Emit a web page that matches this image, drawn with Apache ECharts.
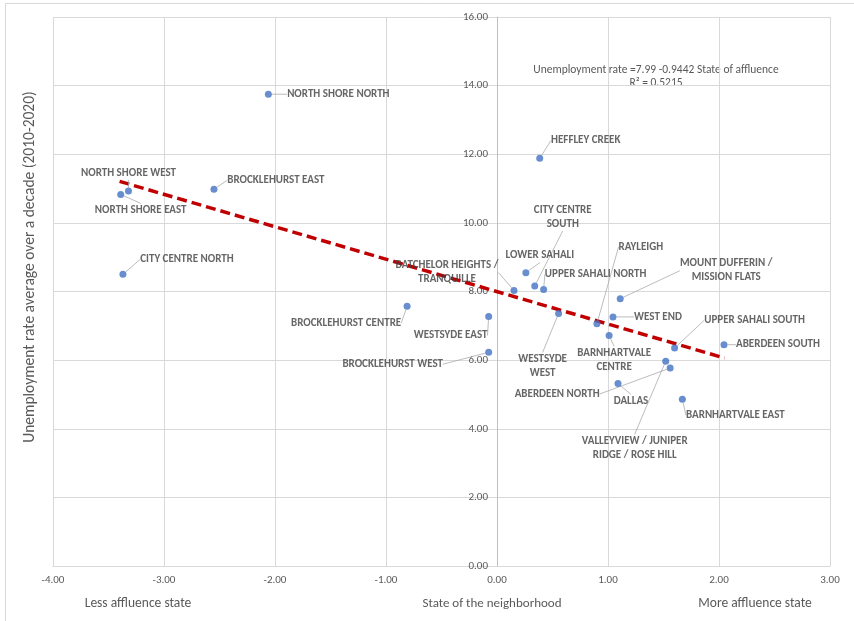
<!DOCTYPE html>
<html>
<head>
<meta charset="utf-8">
<script src="https://cdn.jsdelivr.net/npm/echarts@6/dist/echarts.min.js"></script>
<style>
  html, body { margin: 0; padding: 0; background: #fff; }
  #chart { width: 854px; height: 621px; }
</style>
</head>
<body>
<div id="chart"></div>
<script>
// neighbourhoods, affluence score (x) and unemployment rate (y)
const names = [
  'NORTH SHORE NORTH', 'HEFFLEY CREEK', 'BROCKLEHURST EAST', 'NORTH SHORE WEST',
  'NORTH SHORE EAST', 'CITY CENTRE NORTH', 'BROCKLEHURST CENTRE', 'WESTSYDE EAST',
  'BROCKLEHURST WEST', 'BATCHELOR HEIGHTS /\nTRANQUILLE', 'LOWER SAHALI', 'CITY CENTRE\nSOUTH',
  'UPPER SAHALI NORTH', 'WESTSYDE\nWEST', 'RAYLEIGH', 'BARNHARTVALE\nCENTRE',
  'WEST END', 'MOUNT DUFFERIN /\nMISSION FLATS', 'UPPER SAHALI SOUTH', 'ABERDEEN SOUTH',
  'VALLEYVIEW / JUNIPER\nRIDGE / ROSE HILL', 'ABERDEEN NORTH', 'DALLAS', 'BARNHARTVALE EAST'
];
const affluence = [
  -2.06, 0.385, -2.55, -3.32,
  -3.39, -3.37, -0.81, -0.075,
  -0.075, 0.153, 0.26, 0.34,
  0.42, 0.555, 0.90, 1.01,
  1.045, 1.11, 1.60, 2.045,
  1.52, 1.56, 1.09, 1.67
];
const unemployment = [
  13.75, 11.88, 10.98, 10.93,
  10.83, 8.50, 7.57, 7.27,
  6.23, 8.03, 8.55, 8.16,
  8.06, 7.36, 7.06, 6.72,
  7.26, 7.79, 6.35, 6.45,
  5.97, 5.77, 5.32, 4.86
];
// linear trendline end points
const trendX = [-3.40, 2.05];
const trendY = [11.21, 6.06];

// where each label sits relative to its point (pixels)
const labelOffset = [
  [70, 0], [46, -18], [62, -9], [0, -18],
  [20, 16], [64, -15], [-61, 17], [-38, 19],
  [-96, 12], [-67, -18], [14, -17], [28, -69],
  [52, -15], [-16, 53], [44, -77], [5, 25],
  [45, 0], [106, -28], [80, -28], [54, 0],
  [-31, 87], [-113, 26], [13, 18], [53, 16]
];

const points = names.map((n, i) => ({ name: n, value: [affluence[i], unemployment[i]] }));

const chart = echarts.init(document.getElementById('chart'));
const font = "Carlito, 'Open Sans', sans-serif";

chart.setOption({
  animation: false,
  grid: { left: 53, right: 24, top: 17, bottom: 55, containLabel: false },
  xAxis: {
    type: 'value', min: -4, max: 3, interval: 1,
    axisLine: { show: true, onZero: false, lineStyle: { color: '#d9d9d9' } },
    axisTick: { show: false },
    axisLabel: { color: '#595959', fontFamily: font, fontSize: 11, margin: 9,
      formatter: v => v.toFixed(2) },
    splitLine: { show: true, lineStyle: { color: '#d9d9d9' } }
  },
  yAxis: {
    type: 'value', min: 0, max: 16, interval: 2,
    // the y axis crosses at x = 0 (4/7 of the plot width in from the left)
    offset: -444,
    axisLine: { show: true, onZero: false, lineStyle: { color: '#bfbfbf' } },
    axisTick: { show: false },
    axisLabel: { color: '#595959', fontFamily: font, fontSize: 11, margin: 9,
      formatter: v => v.toFixed(2) },
    splitLine: { show: true, lineStyle: { color: '#d9d9d9' } }
  },
  series: [
    {
      type: 'line',
      data: trendX.map((x, i) => [x, trendY[i]]),
      symbol: 'none',
      lineStyle: { color: '#c00000', width: 3.5, type: [10, 5] },
      z: 3
    },
    {
      type: 'scatter',
      data: points,
      symbolSize: 7,
      itemStyle: { color: '#4472c4' },
      z: 4,
      label: {
        show: true,
        formatter: p => p.name,
        color: '#404040',
        fontFamily: font,
        fontWeight: 'bold',
        fontSize: 11,
        lineHeight: 14,
        align: 'center'
      },
      labelLine: { show: true, lineStyle: { color: '#a6a6a6', width: 0.75 } },
      labelLayout: p => {
        const o = labelOffset[p.dataIndex];
        const cx = p.rect.x + p.rect.width / 2;
        const cy = p.rect.y + p.rect.height / 2;
        return { x: cx + o[0], y: cy + o[1], align: 'center', verticalAlign: 'middle' };
      }
    }
  ],
  graphic: [
    { type: 'line', shape: { x1: 5, y1: 3.5, x2: 854, y2: 3.5 }, style: { stroke: '#d9d9d9', lineWidth: 1 } },
    { type: 'line', shape: { x1: 5.5, y1: 3, x2: 5.5, y2: 621 }, style: { stroke: '#d9d9d9', lineWidth: 1 } },
    {
      type: 'text', x: 30, y: 267, rotation: Math.PI / 2,
      style: { text: 'Unemployment rate average over a decade (2010-2020)', fill: '#595959',
        font: '15.5px ' + font, textAlign: 'center', textVerticalAlign: 'middle' }
    },
    {
      type: 'text', x: 138, y: 604,
      style: { text: 'Less affluence state', fill: '#595959', font: '13.5px ' + font,
        textAlign: 'center', textVerticalAlign: 'middle' }
    },
    {
      type: 'text', x: 492, y: 604,
      style: { text: 'State of the neighborhood', fill: '#595959', font: '13px ' + font,
        textAlign: 'center', textVerticalAlign: 'middle' }
    },
    {
      type: 'text', x: 755, y: 604,
      style: { text: 'More affluence state', fill: '#595959', font: '13.5px ' + font,
        textAlign: 'center', textVerticalAlign: 'middle' }
    },
    {
      type: 'text', x: 656, y: 70,
      style: { text: 'Unemployment rate =7.99 -0.9442 State of affluence', fill: '#595959',
        font: '11.5px ' + font, textAlign: 'center', textVerticalAlign: 'middle' }
    },
    {
      type: 'text', x: 656, y: 83,
      style: { text: 'R² = 0.5215', fill: '#595959',
        font: '11.5px ' + font, textAlign: 'center', textVerticalAlign: 'middle' }
    }
  ]
});
</script>
</body>
</html>
